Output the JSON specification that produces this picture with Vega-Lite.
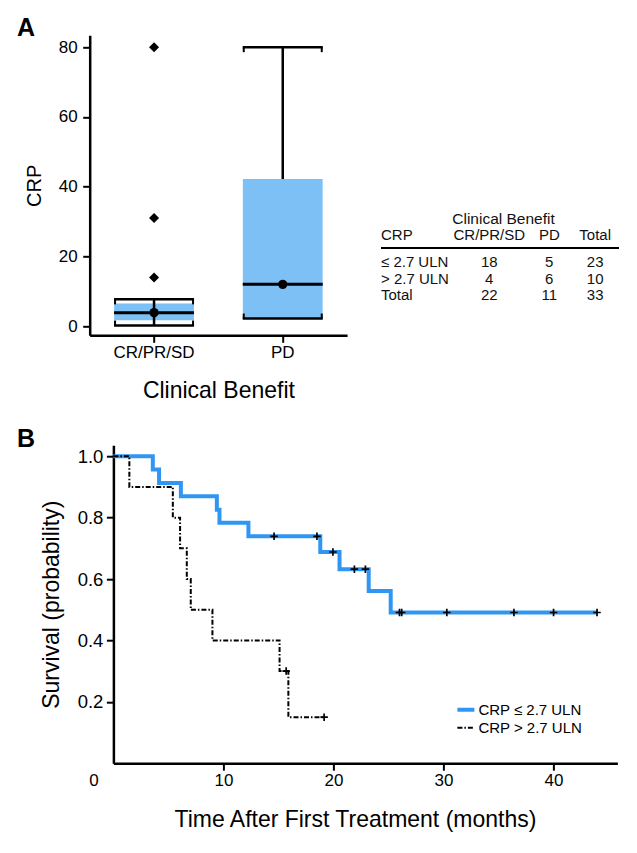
{
  "$schema": "https://vega.github.io/schema/vega-lite/v6.json",
  "background": "white",
  "padding": {"left": 16.7, "top": 16.3, "right": 5, "bottom": 5},
  "autosize": {"type": "pad"},
  "config": {
    "view": {"stroke": null},
    "font": "Liberation Sans",
    "axis": {
      "domainColor": "black", "tickColor": "black", "labelColor": "black", "titleColor": "black",
      "domainWidth": 2.5, "tickWidth": 2, "tickSize": 7, "grid": false,
      "labelFont": "Liberation Sans", "titleFont": "Liberation Sans", "titleFontWeight": "normal"
    }
  },
  "datasets": {
    "box": [
      {"group": "CR/PR/SD", "q1": 1.7, "q3": 6.5, "median": 3.9, "lower": 0.2, "upper": 7.7, "wlo": 0.2, "whi": 7.7},
      {"group": "PD", "q1": 2.2, "q3": 42.2, "median": 12, "lower": 2.2, "upper": 80, "wlo": 42.2, "whi": 80}
    ],
    "outliers": [
      {"group": "CR/PR/SD", "value": 80},
      {"group": "CR/PR/SD", "value": 31},
      {"group": "CR/PR/SD", "value": 14}
    ],
    "table": [
      {"row": 0, "col": 1, "text": "Clinical Benefit"},
      {"row": 1, "col": 0, "text": "CRP"},
      {"row": 1, "col": 1, "text": "CR/PR/SD"},
      {"row": 1, "col": 2, "text": "PD"},
      {"row": 1, "col": 3, "text": "Total"},
      {"row": 3, "col": 0, "text": "≤ 2.7 ULN"},
      {"row": 3, "col": 1, "text": "18"},
      {"row": 3, "col": 2, "text": "5"},
      {"row": 3, "col": 3, "text": "23"},
      {"row": 4, "col": 0, "text": "> 2.7 ULN"},
      {"row": 4, "col": 1, "text": "4"},
      {"row": 4, "col": 2, "text": "6"},
      {"row": 4, "col": 3, "text": "10"},
      {"row": 5, "col": 0, "text": "Total"},
      {"row": 5, "col": 1, "text": "22"},
      {"row": 5, "col": 2, "text": "11"},
      {"row": 5, "col": 3, "text": "33"}
    ],
    "km": [
      {"group": "CRP ≤ 2.7 ULN", "t": 0, "s": 1},
      {"group": "CRP ≤ 2.7 ULN", "t": 3.58, "s": 0.957},
      {"group": "CRP ≤ 2.7 ULN", "t": 4.15, "s": 0.913},
      {"group": "CRP ≤ 2.7 ULN", "t": 6.13, "s": 0.87},
      {"group": "CRP ≤ 2.7 ULN", "t": 9.4, "s": 0.826},
      {"group": "CRP ≤ 2.7 ULN", "t": 9.64, "s": 0.783},
      {"group": "CRP ≤ 2.7 ULN", "t": 12.27, "s": 0.739},
      {"group": "CRP ≤ 2.7 ULN", "t": 18.8, "s": 0.688},
      {"group": "CRP ≤ 2.7 ULN", "t": 20.55, "s": 0.632},
      {"group": "CRP ≤ 2.7 ULN", "t": 23.2, "s": 0.561},
      {"group": "CRP ≤ 2.7 ULN", "t": 25.2, "s": 0.491},
      {"group": "CRP ≤ 2.7 ULN", "t": 43.95, "s": 0.491},
      {"group": "CRP > 2.7 ULN", "t": 0, "s": 1},
      {"group": "CRP > 2.7 ULN", "t": 1.45, "s": 0.9},
      {"group": "CRP > 2.7 ULN", "t": 5.4, "s": 0.8},
      {"group": "CRP > 2.7 ULN", "t": 6.06, "s": 0.7},
      {"group": "CRP > 2.7 ULN", "t": 6.67, "s": 0.6},
      {"group": "CRP > 2.7 ULN", "t": 7.03, "s": 0.5},
      {"group": "CRP > 2.7 ULN", "t": 9.0, "s": 0.4},
      {"group": "CRP > 2.7 ULN", "t": 15.1, "s": 0.3},
      {"group": "CRP > 2.7 ULN", "t": 15.9, "s": 0.15},
      {"group": "CRP > 2.7 ULN", "t": 19.15, "s": 0.15}
    ],
    "censor": [
      {"group": "CRP ≤ 2.7 ULN", "t": 14.6, "s": 0.739},
      {"group": "CRP ≤ 2.7 ULN", "t": 18.5, "s": 0.739},
      {"group": "CRP ≤ 2.7 ULN", "t": 19.95, "s": 0.688},
      {"group": "CRP ≤ 2.7 ULN", "t": 21.9, "s": 0.632},
      {"group": "CRP ≤ 2.7 ULN", "t": 22.9, "s": 0.632},
      {"group": "CRP ≤ 2.7 ULN", "t": 26.0, "s": 0.491},
      {"group": "CRP ≤ 2.7 ULN", "t": 26.2, "s": 0.491},
      {"group": "CRP ≤ 2.7 ULN", "t": 30.3, "s": 0.491},
      {"group": "CRP ≤ 2.7 ULN", "t": 36.4, "s": 0.491},
      {"group": "CRP ≤ 2.7 ULN", "t": 40.0, "s": 0.491},
      {"group": "CRP ≤ 2.7 ULN", "t": 43.95, "s": 0.491},
      {"group": "CRP > 2.7 ULN", "t": 15.7, "s": 0.3},
      {"group": "CRP > 2.7 ULN", "t": 19.15, "s": 0.15}
    ]
  },
  "spacing": 24.9,
  "vconcat": [
    {
      "bounds": "flush",
      "spacing": 22.7,
      "hconcat": [
        {
          "width": 257.4,
          "height": 300,
          "title": {"text": "A", "anchor": "start", "frame": "bounds", "fontSize": 25, "fontWeight": "bold", "baseline": "alphabetic", "offset": -26, "dx": -7.2, "color": "black", "font": "Liberation Sans"},
          "encoding": {
            "x": {"field": "group", "type": "nominal", "sort": ["CR/PR/SD", "PD"],
                  "scale": {"paddingInner": 0, "paddingOuter": 0},
                  "axis": {"title": "Clinical Benefit", "labelAngle": 0, "labelFontSize": 17, "labelPadding": 2, "titleFontSize": 23, "titlePadding": 19}}
          },
          "layer": [
            {
              "data": {"name": "box"},
              "mark": {"type": "bar", "color": "#7CC0F6", "width": {"band": 0.62}},
              "encoding": {
                "y": {"field": "q3", "type": "quantitative", "title": "CRP",
                      "scale": {"domain": [-2.6, 83.4], "nice": false, "zero": false},
                      "axis": {"values": [0, 20, 40, 60, 80], "labelFontSize": 17, "labelPadding": 5.5, "titleFontSize": 20, "titlePadding": 14}},
                "y2": {"field": "q1"}
              }
            },
            {
              "data": {"name": "box"},
              "mark": {"type": "rule", "color": "black", "strokeWidth": 2.5},
              "encoding": {
                "y": {"field": "whi", "type": "quantitative", "title": "CRP"},
                "y2": {"field": "wlo"}
              }
            },
            {
              "data": {"name": "box"},
              "mark": {"type": "tick", "color": "black", "thickness": 3, "size": 80, "opacity": 1},
              "encoding": {"y": {"field": "median", "type": "quantitative", "title": "CRP"}}
            },
            {
              "data": {"name": "box"},
              "mark": {"type": "tick", "color": "black", "thickness": 2.5, "size": 80, "opacity": 1},
              "encoding": {"y": {"field": "upper", "type": "quantitative", "title": "CRP"}}
            },
            {
              "data": {"name": "box"},
              "mark": {"type": "tick", "color": "black", "thickness": 2.5, "size": 80, "opacity": 1},
              "encoding": {"y": {"field": "lower", "type": "quantitative", "title": "CRP"}}
            },
            {
              "data": {"name": "box"},
              "mark": {"type": "tick", "orient": "vertical", "color": "black", "thickness": 2, "size": 5, "opacity": 1, "xOffset": -39, "yOffset": 2.5},
              "encoding": {"y": {"field": "upper", "type": "quantitative", "title": "CRP"}}
            },
            {
              "data": {"name": "box"},
              "mark": {"type": "tick", "orient": "vertical", "color": "black", "thickness": 2, "size": 5, "opacity": 1, "xOffset": 39, "yOffset": 2.5},
              "encoding": {"y": {"field": "upper", "type": "quantitative", "title": "CRP"}}
            },
            {
              "data": {"name": "box"},
              "mark": {"type": "tick", "orient": "vertical", "color": "black", "thickness": 2, "size": 5, "opacity": 1, "xOffset": -39, "yOffset": -2.5},
              "encoding": {"y": {"field": "lower", "type": "quantitative", "title": "CRP"}}
            },
            {
              "data": {"name": "box"},
              "mark": {"type": "tick", "orient": "vertical", "color": "black", "thickness": 2, "size": 5, "opacity": 1, "xOffset": 39, "yOffset": -2.5},
              "encoding": {"y": {"field": "lower", "type": "quantitative", "title": "CRP"}}
            },
            {
              "data": {"name": "box"},
              "mark": {"type": "point", "filled": true, "color": "black", "size": 85, "opacity": 1},
              "encoding": {"y": {"field": "median", "type": "quantitative", "title": "CRP"}}
            },
            {
              "data": {"name": "outliers"},
              "mark": {"type": "point", "shape": "diamond", "filled": true, "color": "black", "size": 100, "opacity": 1},
              "encoding": {"y": {"field": "value", "type": "quantitative", "title": "CRP"}}
            }
          ]
        },
        {
          "width": 248.6,
          "height": 300,
          "data": {"name": "table"},
          "encoding": {
            "x": {"field": "col", "type": "quantitative", "axis": null,
                  "scale": {"domain": [0, 1, 2, 3, 4], "range": [10.6, 118.9, 178.9, 224.8, 248.6], "zero": false, "nice": false}},
            "y": {"field": "row", "type": "quantitative", "axis": null,
                  "scale": {"domain": [0, 1, 2, 3, 4, 5], "range": [189, 205, 212.7, 231.7, 248.3, 265], "zero": false, "nice": false}}
          },
          "layer": [
            {
              "transform": [{"filter": "datum.col == 0"}],
              "mark": {"type": "text", "align": "left", "baseline": "alphabetic", "fontSize": 15, "color": "#111111"},
              "encoding": {"text": {"field": "text"}}
            },
            {
              "transform": [{"filter": "datum.col > 0 && datum.row > 0"}],
              "mark": {"type": "text", "align": "center", "baseline": "alphabetic", "fontSize": 15, "color": "#111111"},
              "encoding": {"text": {"field": "text"}}
            },
            {
              "transform": [{"filter": "datum.row == 0"}],
              "mark": {"type": "text", "align": "left", "baseline": "alphabetic", "fontSize": 15.5, "dx": -37, "color": "#111111"},
              "encoding": {"text": {"field": "text"}}
            },
            {
              "data": {"values": [{"row": 2, "col": 0, "colEnd": 4}]},
              "mark": {"type": "rule", "color": "black", "strokeWidth": 2},
              "encoding": {"x2": {"field": "colEnd"}}
            }
          ]
        }
      ]
    },
    {
      "bounds": "flush",
      "spacing": 22.7,
      "hconcat": [
        {
          "width": 1,
          "height": 1,
          "data": {"values": [{}]},
          "mark": {"type": "point", "opacity": 0}
        },
        {
          "width": 504,
          "height": 318,
          "title": {"text": "B", "anchor": "start", "frame": "bounds", "fontSize": 25, "fontWeight": "bold", "baseline": "alphabetic", "offset": -27.3, "dx": -23.6, "color": "black", "font": "Liberation Sans"},
          "encoding": {
            "x": {"field": "t", "type": "quantitative",
                  "scale": {"domain": [0, 45.8], "nice": false, "zero": false},
                  "axis": {"values": [0, 10, 20, 30, 40], "title": "Time After First Treatment (months)",
                           "labelFontSize": 17, "labelPadding": 2, "labelFlush": false, "titleFontSize": 23, "titlePadding": 20.7, "titleX": 241.5,
                           "labelOffset": {"condition": {"test": "datum.value === 0", "value": -20}, "value": 0},
                           "tickOpacity": {"condition": {"test": "datum.value === 0", "value": 0}, "value": 1}}},
            "y": {"field": "s", "type": "quantitative",
                  "scale": {"domain": [0, 1.036], "nice": false, "zero": false},
                  "axis": {"values": [0.2, 0.4, 0.6, 0.8, 1.0], "format": ".1f", "title": "Survival (probability)",
                           "labelFontSize": 18.5, "labelPadding": 3.5, "titleFontSize": 23, "titlePadding": 13.5}}
          },
          "layer": [
            {
              "data": {"name": "km"},
              "transform": [{"filter": "datum.group === 'CRP ≤ 2.7 ULN'"}],
              "mark": {"type": "line", "interpolate": "step-after", "strokeWidth": 4},
              "encoding": {
                "color": {"field": "group", "type": "nominal",
                          "scale": {"domain": ["CRP ≤ 2.7 ULN", "CRP > 2.7 ULN"], "range": ["#2F96F3", "black"]},
                          "legend": {"title": null, "orient": "none", "legendX": 368.7, "legendY": 667, "padding": 0,
                                     "labelFontSize": 15, "labelColor": "black", "labelFont": "Liberation Sans",
                                     "symbolType": "stroke", "symbolSize": 289, "labelOffset": 5, "rowPadding": 2,
                                     "encode": {"symbols": {"update": {"strokeWidth": {"signal": "datum.value === 'CRP ≤ 2.7 ULN' ? 4 : 2"}}}}}},
                "strokeDash": {"field": "group", "type": "nominal",
                               "scale": {"domain": ["CRP ≤ 2.7 ULN", "CRP > 2.7 ULN"], "range": [[1, 0], [5, 2, 1.5, 2]]},
                               "legend": {"title": null, "orient": "none", "legendX": 368.7, "legendY": 667, "padding": 0,
                                          "labelFontSize": 15, "labelColor": "black", "labelFont": "Liberation Sans",
                                          "symbolType": "stroke", "symbolSize": 289, "labelOffset": 5, "rowPadding": 2,
                                          "encode": {"symbols": {"update": {"strokeWidth": {"signal": "datum.value === 'CRP ≤ 2.7 ULN' ? 4 : 2"}}}}}}
              }
            },
            {
              "data": {"name": "km"},
              "transform": [{"filter": "datum.group === 'CRP > 2.7 ULN'"}],
              "mark": {"type": "line", "interpolate": "step-after", "strokeWidth": 2},
              "encoding": {
                "color": {"field": "group", "type": "nominal"},
                "strokeDash": {"field": "group", "type": "nominal"}
              }
            },
            {
              "data": {"name": "censor"},
              "mark": {"type": "point", "shape": "M-1,0L1,0M0,-1L0,1", "filled": false, "stroke": "black", "strokeWidth": 1.7, "size": 56, "opacity": 1}
            }
          ]
        }
      ]
    }
  ]
}
